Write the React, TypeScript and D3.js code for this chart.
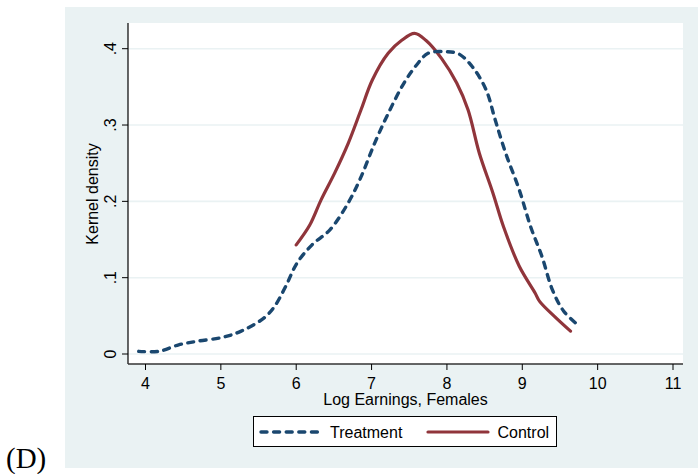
import React from "react";
import * as d3 from "d3";

const xTicks = [4, 5, 6, 7, 8, 9, 10, 11];
const yTicks = [0, 0.1, 0.2, 0.3, 0.4];
const yTickLabels = ["0", ".1", ".2", ".3", ".4"];

const treatmentX = [3.91, 4.18, 4.44, 4.68, 5.03, 5.27, 5.57, 5.71, 5.86, 6.01, 6.21, 6.45, 6.69, 6.86, 7.04, 7.22, 7.43, 7.6, 7.75, 7.99, 8.16, 8.34, 8.52, 8.64, 8.78, 8.96, 9.11, 9.26, 9.4, 9.55, 9.75];
const treatmentY = [0.0035, 0.0035, 0.012, 0.0166, 0.022, 0.03, 0.047, 0.062, 0.0885, 0.119, 0.143, 0.163, 0.198, 0.232, 0.276, 0.315, 0.355, 0.379, 0.394, 0.396, 0.393, 0.376, 0.346, 0.307, 0.263, 0.215, 0.167, 0.128, 0.084, 0.056, 0.037];

const controlX = [6.0, 6.18, 6.33, 6.51, 6.69, 6.86, 7.01, 7.22, 7.4, 7.57, 7.72, 7.93, 8.13, 8.28, 8.43, 8.61, 8.75, 8.96, 9.17, 9.23, 9.43, 9.64];
const controlY = [0.143, 0.169, 0.202, 0.237, 0.276, 0.32, 0.359, 0.394, 0.411, 0.42, 0.411, 0.387, 0.355, 0.32, 0.263, 0.211, 0.167, 0.115, 0.08, 0.069, 0.049, 0.03];

const NAVY = "#1A476F";
const MAROON = "#90353B";
const BG = "#EAF2F3";

export default function App() {
  const W = 698, H = 474;
  const left = 128, right = 683, top = 23, bottom = 364;
  const x = d3.scaleLinear().domain([4, 11]).range([145.5, 673]);
  const y = d3.scaleLinear().domain([0, 0.4]).range([354, 48.7]);

  const line = d3
    .line<[number, number]>()
    .x((d) => x(d[0]))
    .y((d) => y(d[1]))
    .curve(d3.curveCatmullRom.alpha(0.5));

  const tData = treatmentX.map((v, i) => [v, treatmentY[i]] as [number, number]);
  const cData = controlX.map((v, i) => [v, controlY[i]] as [number, number]);

  const font = "'Liberation Sans', Arial, sans-serif";

  return (
    <svg
      width={W}
      height={H}
      style={{ position: "fixed", left: 0, top: 0 }}
      xmlns="http://www.w3.org/2000/svg"
    >
      <rect x={0} y={0} width={W} height={H} fill="#fff" />
      <rect x={65} y={7} width={633} height={461} fill={BG} />
      <rect x={left} y={top} width={right - left} height={bottom - top} fill="#fff" />
      {yTicks.map((t) => (
        <line key={"g" + t} x1={left} x2={right} y1={y(t)} y2={y(t)} stroke={BG} strokeWidth={1.6} />
      ))}
      <path d={line(cData) || ""} fill="none" stroke={MAROON} strokeWidth={3.2} strokeLinejoin="round" strokeLinecap="round" />
      <path d={line(tData) || ""} fill="none" stroke={NAVY} strokeWidth={3.4} strokeDasharray="6 6.6" strokeLinecap="round" />
      {/* axes */}
      <line x1={left} x2={left} y1={top} y2={bottom} stroke="#000" strokeWidth={1.2} />
      <line x1={left} x2={right} y1={bottom} y2={bottom} stroke="#333" strokeWidth={1.4} />
      {yTicks.map((t, i) => (
        <g key={"y" + t}>
          <line x1={left - 6} x2={left} y1={y(t)} y2={y(t)} stroke="#000" strokeWidth={1} />
          <text
            transform={`translate(115.5,${y(t)}) rotate(-90)`}
            textAnchor="middle"
            fontFamily={font}
            fontSize={16}
            fill="#000"
          >
            {yTickLabels[i]}
          </text>
        </g>
      ))}
      {xTicks.map((t) => (
        <g key={"x" + t}>
          <line x1={x(t)} x2={x(t)} y1={bottom} y2={bottom + 6} stroke="#000" strokeWidth={1} />
          <text x={x(t)} y={388.5} textAnchor="middle" fontFamily={font} fontSize={16} fill="#000">
            {t}
          </text>
        </g>
      ))}
      <text x={405.5} y={404.5} textAnchor="middle" fontFamily={font} fontSize={16} fill="#000">
        Log Earnings, Females
      </text>
      <text
        transform={`translate(97.5,194) rotate(-90)`}
        textAnchor="middle"
        fontFamily={font}
        fontSize={16}
        fill="#000"
      >
        Kernel density
      </text>
      {/* legend */}
      <rect x={253.5} y={416.5} width={303} height={30} fill="#fff" stroke="#000" strokeWidth={1} />
      <line x1={261} x2={321} y1={432} y2={432} stroke={NAVY} strokeWidth={3.4} strokeDasharray="6 6.6" strokeLinecap="round" />
      <text x={330} y={437.5} fontFamily={font} fontSize={16} fill="#000">
        Treatment
      </text>
      <line x1={428} x2={488} y1={432} y2={432} stroke={MAROON} strokeWidth={3.2} strokeLinecap="round" />
      <text x={497.5} y={437.5} fontFamily={font} fontSize={16} fill="#000">
        Control
      </text>
      <text x={6} y={468} fontFamily="'Liberation Serif', 'Times New Roman', serif" fontSize={29} fill="#000">
        (D)
      </text>
    </svg>
  );
}
